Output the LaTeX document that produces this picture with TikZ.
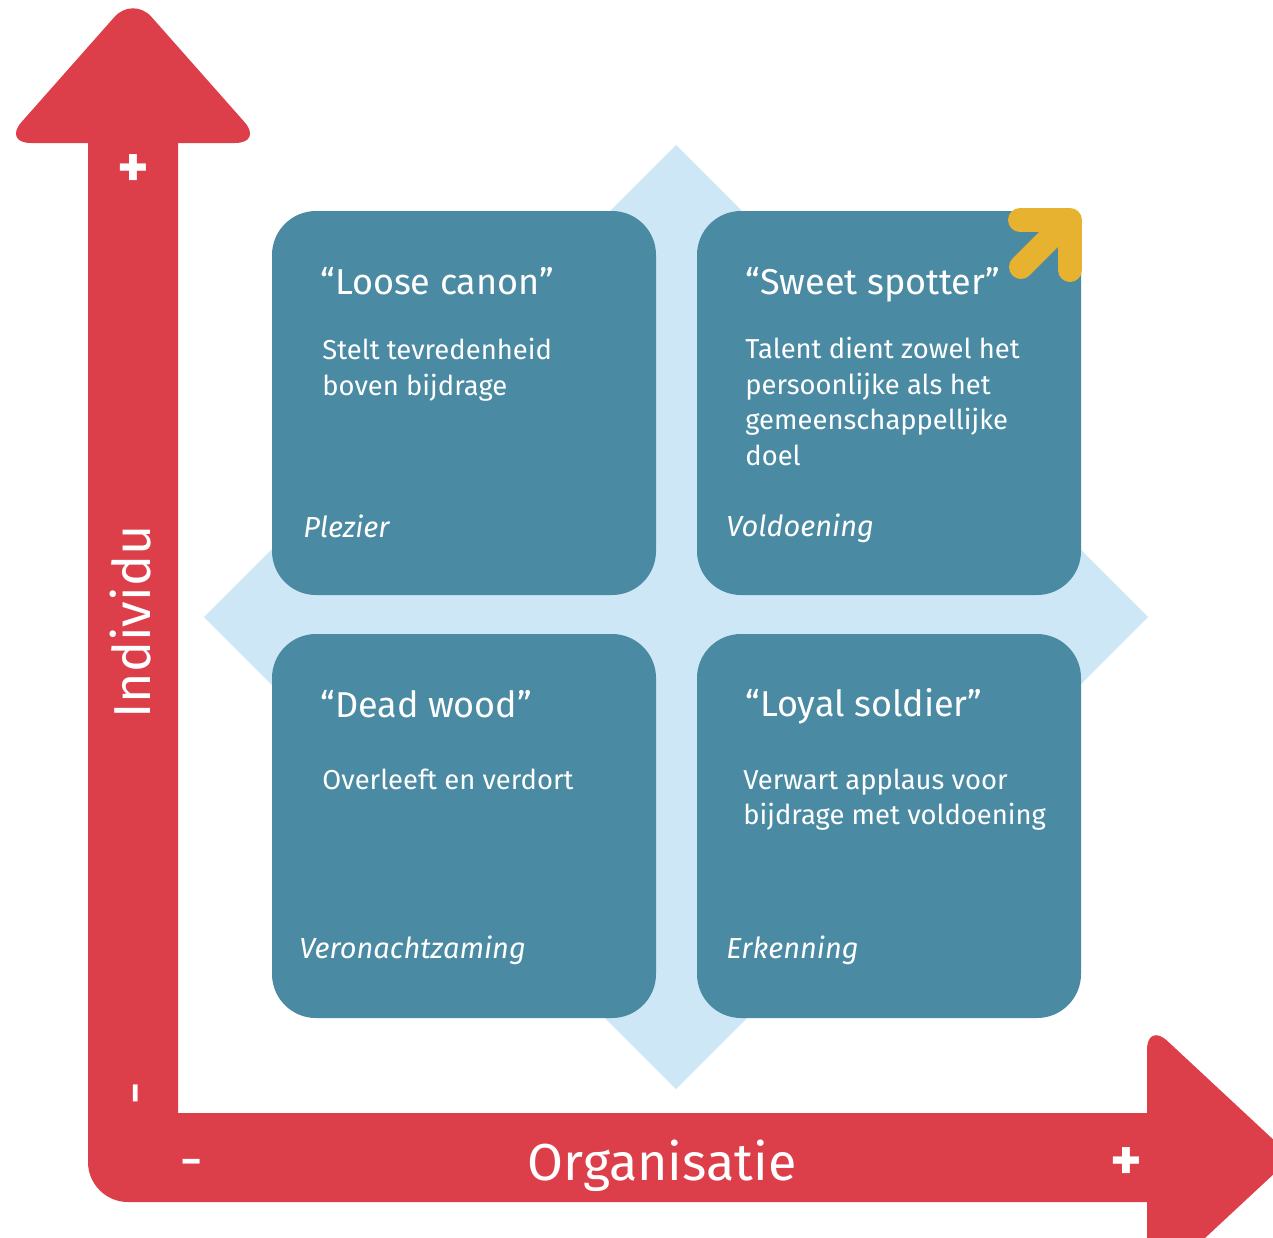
\documentclass[tikz,border=0pt]{standalone}
\usepackage{fontspec}
\setmainfont{Fira Sans}
\usetikzlibrary{positioning}

\definecolor{axisred}{HTML}{DC3F4A}
\definecolor{quadteal}{HTML}{4A8BA3}
\definecolor{diamondblue}{HTML}{CDE7F7}
\definecolor{markyellow}{HTML}{E8B231}

\tikzset{
  quad/.style={fill=quadteal, rounded corners=22pt, minimum width=192pt, minimum height=192pt, inner sep=0pt},
  qtitle/.style={anchor=base west, inner sep=0pt, text=white, font=\fontsize{18}{22}\selectfont},
  qtext/.style={anchor=base west, inner sep=0pt, text=white, font=\fontsize{13.7}{17}\selectfont},
  qnote/.style={anchor=base west, inner sep=0pt, text=white, font=\fontsize{14.5}{17}\selectfont\itshape},
  axislabel/.style={inner sep=0pt, text=white, font=\fontsize{26}{30}\selectfont},
  sign/.style={inner sep=0pt, text=white, font=\fontsize{30}{34}\selectfont}
}

\begin{document}
\begin{tikzpicture}[x=0.5pt,y=-0.5pt]
  \useasboundingbox (0,0) rectangle (1273,1237);
  \fill[white] (0,0) rectangle (1273,1237);
  \clip (0,0) rectangle (1273,1237);

  % light blue diamond behind the four quadrants
  \fill[diamondblue] (676,145) -- (1148,617) -- (676,1089) -- (204,617) -- cycle;

  % red axes with their heads
  \fill[axisred] (88,143) -- (178,143) -- (178,1113) -- (1150,1113) -- (1150,1202) -- (128,1202)
    arc[start angle=90, end angle=180, radius=40] -- cycle;
  \fill[axisred, rounded corners=14pt] (3,143) -- (133,-4) -- (263,143) -- cycle;
  \fill[axisred, rounded corners=14pt] (1147,1022) -- (1292,1157) -- (1147,1292) -- cycle;

  \node[axislabel, anchor=base] (organisatie) at (662,1180) {Organisatie};
  \node[axislabel, anchor=base, rotate=90] (individu) at (150,622) {Individu};
  \node[sign, font=\fontsize{30}{34}\selectfont\bfseries] (plusY) at (133,171) {+};
  \node[sign, rotate=90] (minusY) at (144,1093) {-};
  \node[sign] (minusX) at (192,1170) {-};
  \node[sign, font=\fontsize{30}{34}\selectfont\bfseries] (plusX) at (1126,1164) {+};

  % quadrants
  \node[quad] (loose) at (464,403) {};
  \node[quad] (sweet) at (889,403) {};
  \node[quad] (dead) at (464,826) {};
  \node[quad] (loyal) at (889,826) {};

  % yellow arrow in the corner of the sweet spot
  \draw[markyellow, line width=12pt, line cap=round, line join=round] (1020,220) -- (1070,220) -- (1070,270);
  \draw[markyellow, line width=12pt, line cap=round] (1021,267) -- (1066,222);

  \node[qtitle] (looseTitle) at (320,294) {“Loose canon”};
  \node[qtitle] (sweetTitle) at (745,294) {“Sweet spotter”};
  \node[qtitle] (deadTitle) at (320,717) {“Dead wood”};
  \node[qtitle] (loyalTitle) at (745,716) {“Loyal soldier”};

  \foreach \px/\py/\txt [count=\i] in {
    322/359/Stelt tevredenheid, 322/395/boven bijdrage,
    745/358/Talent dient zowel het, 745/394/persoonlijke als het,
    745/429/gemeenschappellijke, 745/465/doel,
    322/789/Overleeft en verdort,
    743/789/Verwart applaus voor, 743/824/bijdrage met voldoening} {
    \node[qtext] (body\i) at (\px,\py) {\txt};
  }

  \node[qnote] (plezier) at (303,537) {Plezier};
  \node[qnote] (voldoening) at (726,536) {Voldoening};
  \node[qnote] (veronachtzaming) at (299,958) {Veronachtzaming};
  \node[qnote] (erkenning) at (726,958) {Erkenning};
\end{tikzpicture}
\end{document}
